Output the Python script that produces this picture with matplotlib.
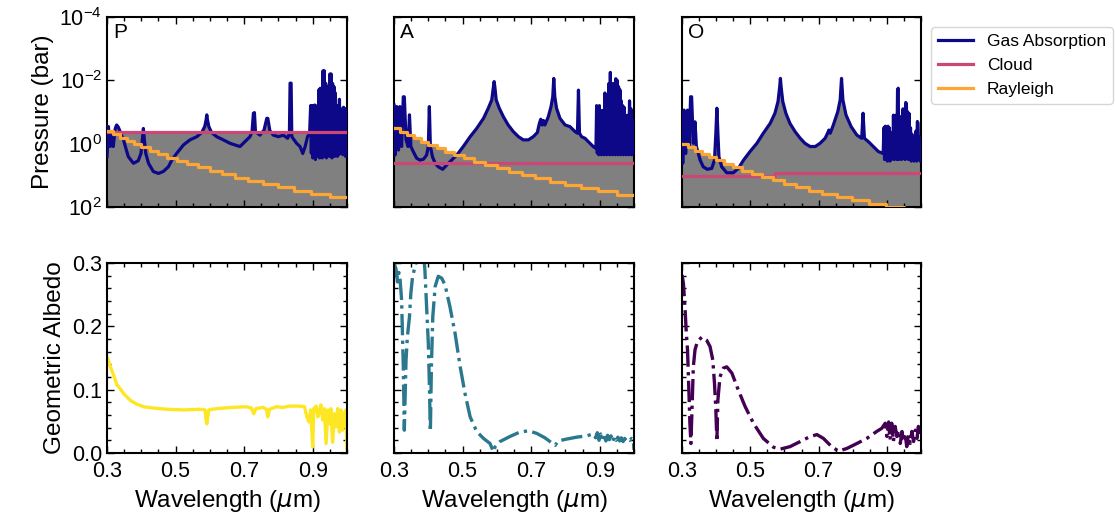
import numpy as np
import matplotlib
matplotlib.use('Agg')
import matplotlib.pyplot as plt
from matplotlib.ticker import MultipleLocator, FixedLocator, NullLocator

plt.rcParams['font.family'] = ['Liberation Sans', 'DejaVu Sans']

# ---- gas absorption tau=1 level, log10(P / bar) vs wavelength (um)
p_gas_wl = [0.300, 0.304, 0.309, 0.314, 0.318, 0.324, 0.328, 0.333, 0.340, 0.348, 0.355, 0.362,
            0.377, 0.391, 0.399, 0.403, 0.406, 0.409, 0.413, 0.421, 0.435, 0.450, 0.464, 0.479,
            0.489, 0.503, 0.523, 0.542, 0.562, 0.576, 0.585, 0.589, 0.591, 0.593, 0.597, 0.605,
            0.620, 0.639, 0.659, 0.673, 0.688, 0.702, 0.717, 0.723, 0.727, 0.730, 0.733, 0.746,
            0.758, 0.766, 0.769, 0.775, 0.785, 0.800, 0.814, 0.827, 0.832, 0.834, 0.837, 0.839,
            0.853, 0.863, 0.871, 0.878, 0.885, 0.891,
            0.894, 0.896, 0.898, 0.900, 0.902, 0.904, 0.906, 0.908, 0.910, 0.912, 0.914, 0.916,
            0.918, 0.920, 0.922, 0.924, 0.926, 0.928, 0.930, 0.932, 0.934, 0.936, 0.938, 0.940,
            0.942, 0.944, 0.946, 0.948, 0.950, 0.952, 0.954, 0.956, 0.958, 0.960, 0.962, 0.964,
            0.966, 0.968, 0.970, 0.972, 0.974, 0.976, 0.978, 0.980, 0.982, 0.984, 0.986, 0.988,
            0.990, 0.992, 0.994, 0.996, 0.998, 1.000]
p_gas_logp = [0.41, -0.54, 0.09, -0.38, 0.09, -0.48, -0.59, -0.52, -0.33, -0.12, 0.15, 0.41,
              0.62, 0.54, 0.31, -0.12, -0.48, -0.12, 0.31, 0.62, 0.88, 0.94, 0.88, 0.73,
              0.52, 0.31, 0.04, -0.12, -0.22, -0.35, -0.54, -0.75, -0.91, -0.75, -0.54, -0.35,
              -0.22, -0.12, -0.01, 0.04, 0.09, -0.06, -0.22, -0.38, -0.96, -0.98, -0.38, -0.27,
              -0.43, -0.80, -0.80, -0.41, -0.27, -0.22, -0.27, -0.17, -0.33, -1.91, -1.91, -0.22,
              -0.01, 0.09, 0.31, 0.09, -0.22, -0.33,
              -1.20, 0.30, -1.20, 0.45, -1.20, 0.20, -1.22, 0.50, -1.10, 0.40, -1.20, 0.35,
              -1.70, 0.45, -1.75, 0.20, -1.50, 0.45, -2.30, 0.30, -2.30, 0.40, -1.90, 0.45,
              -1.80, 0.30, -1.50, 0.40, -2.20, 0.35, -2.20, 0.45, -1.90, 0.30, -1.80, 0.40,
              -1.60, 0.30, -1.20, 0.40, -1.10, 0.35, -1.40, 0.25, -0.90, 0.30, -1.10, 0.35,
              -1.15, 0.30, -1.10, 0.40, -0.60, 0.30]

a_gas_wl = [0.300, 0.303, 0.308, 0.313, 0.317, 0.322, 0.327, 0.330, 0.335, 0.341, 0.345, 0.349,
            0.356, 0.366, 0.376, 0.386, 0.395, 0.400, 0.403, 0.406, 0.412, 0.420, 0.429, 0.442,
            0.454, 0.468, 0.483, 0.502, 0.522, 0.541, 0.561, 0.575, 0.585, 0.590, 0.592, 0.594,
            0.598, 0.607, 0.619, 0.633, 0.648, 0.663, 0.677, 0.692, 0.706, 0.718, 0.724, 0.728,
            0.732, 0.736, 0.740, 0.750, 0.758, 0.763, 0.766, 0.769, 0.774, 0.784, 0.799, 0.813,
            0.828, 0.835, 0.838, 0.841, 0.847, 0.857, 0.867, 0.881, 0.889,
            0.891, 0.893, 0.895, 0.897, 0.899, 0.901, 0.903, 0.905, 0.907, 0.909, 0.911, 0.913,
            0.915, 0.917, 0.919, 0.921, 0.923, 0.925, 0.927, 0.929, 0.931, 0.933, 0.935, 0.937,
            0.939, 0.941, 0.943, 0.945, 0.947, 0.949, 0.951, 0.953, 0.955, 0.957, 0.959, 0.961,
            0.963, 0.965, 0.967, 0.969, 0.971, 0.973, 0.975, 0.977, 0.979, 0.981, 0.983, 0.985,
            0.987, 0.989, 0.991, 0.993, 0.995, 0.997, 0.999]
a_gas_logp = [-1.22, 0.36, -1.17, 0.20, -1.17, 0.09, -1.48, -1.48, -0.12, 0.09, -0.91, 0.09,
              0.25, 0.46, 0.52, 0.49, 0.36, 0.09, -1.17, 0.09, 0.41, 0.62, 0.73, 0.81,
              0.67, 0.52, 0.36, 0.09, -0.22, -0.48, -0.80, -1.12, -1.38, -1.80, -1.96, -1.80,
              -1.38, -1.12, -0.85, -0.59, -0.38, -0.22, -0.12, -0.12, -0.22, -0.35, -0.64, -0.77,
              -0.59, -0.73, -0.59, -0.85, -1.17, -1.48, -2.06, -1.48, -1.12, -0.80, -0.59, -0.54,
              -0.38, -0.33, -1.69, -0.33, -0.22, -0.17, -0.06, 0.09, 0.15,
              -1.20, 0.30, -1.15, 0.35, -1.20, 0.30, -0.90, 0.35, -1.05, 0.30, -1.00, 0.35,
              -1.60, 0.30, -1.55, 0.35, -1.20, 0.30, -1.90, 0.35, -2.25, 0.30, -1.50, 0.35,
              -1.90, 0.30, -1.85, 0.35, -2.05, 0.30, -2.00, 0.35, -1.80, 0.30, -1.70, 0.35,
              -1.35, 0.30, -1.20, 0.35, -1.15, 0.30, -0.90, 0.35, -0.65, 0.30, -0.90, 0.35,
              -1.35, 0.30, -1.10, 0.35, -0.75, 0.30, -0.70]

o_gas_wl = [0.300, 0.302, 0.306, 0.311, 0.316, 0.321, 0.325, 0.328, 0.333, 0.338, 0.342, 0.353,
            0.362, 0.374, 0.387, 0.395, 0.399, 0.402, 0.405, 0.408, 0.416, 0.431, 0.450, 0.465,
            0.480, 0.499, 0.519, 0.538, 0.558, 0.572, 0.581, 0.586, 0.588, 0.590, 0.595, 0.604,
            0.616, 0.631, 0.646, 0.660, 0.675, 0.690, 0.704, 0.719, 0.727, 0.730, 0.734, 0.743,
            0.756, 0.763, 0.767, 0.771, 0.780, 0.795, 0.812, 0.826, 0.830, 0.834, 0.846, 0.860,
            0.875, 0.889,
            0.891, 0.893, 0.895, 0.897, 0.899, 0.901, 0.903, 0.905, 0.907, 0.909, 0.911, 0.913,
            0.915, 0.917, 0.919, 0.921, 0.923, 0.925, 0.927, 0.929, 0.931, 0.933, 0.935, 0.937,
            0.939, 0.941, 0.943, 0.945, 0.947, 0.949, 0.951, 0.953, 0.955, 0.957, 0.959, 0.961,
            0.963, 0.965, 0.967, 0.969, 0.971, 0.973, 0.975, 0.977, 0.979, 0.981, 0.983, 0.985,
            0.987, 0.989, 0.991, 0.993, 0.995, 0.997, 0.999]
o_gas_logp = [-1.01, 0.62, -1.06, 0.31, -1.06, 0.09, -1.48, -1.48, -0.01, -0.69, 0.09, 0.52,
              0.73, 0.81, 0.78, 0.52, -0.33, -1.12, -0.33, 0.41, 0.73, 0.92, 0.92, 0.78,
              0.52, 0.25, -0.01, -0.33, -0.64, -0.96, -1.33, -1.80, -2.06, -1.80, -1.33, -0.96,
              -0.64, -0.38, -0.17, -0.01, 0.09, 0.09, -0.01, -0.17, -0.35, -0.43, -0.33, -0.59,
              -1.01, -1.38, -2.06, -1.38, -0.91, -0.54, -0.27, -0.17, -0.96, -0.17, -0.06, 0.09,
              0.25, 0.31,
              -0.50, 0.50, -0.55, 0.45, -0.50, 0.55, -0.55, 0.45, -0.50, 0.55, -0.20, 0.50,
              -0.35, 0.45, -0.90, 0.50, -0.85, 0.45, -0.90, 0.50, -1.70, -1.75, 0.50, -0.60,
              0.45, -0.85, 0.50, -0.80, -1.10, 0.45, -0.90, 0.50, -1.30, -1.25, 0.45, -1.00,
              0.50, -0.95, 0.45, -0.50, 0.55, -0.30, 0.50, -0.10, 0.55, -0.20, 0.50, -0.40,
              0.55, -0.70, -0.65, 0.50, -0.20, 0.55, -0.15]

# ---- cloud top, step edges and log10(P / bar)
p_cloud_wl = [0.300, 1.000]
p_cloud_logp = [-0.38, -0.38]
a_cloud_wl = [0.300, 1.000]
a_cloud_logp = [0.62, 0.62]
o_cloud_wl = [0.300, 0.572, 1.000]
o_cloud_logp = [1.01, 0.92, 0.92]

# ---- Rayleigh tau=1 level on the model pressure grid
ray_wl = [0.300, 0.318, 0.337, 0.357, 0.378, 0.400, 0.424, 0.449, 0.475, 0.504, 0.533,
          0.565, 0.599, 0.634, 0.672, 0.711, 0.754, 0.798, 0.846, 0.896, 0.949, 1.000]
p_ray_logp = [-0.40, -0.30, -0.19, -0.09, 0.02, 0.12, 0.23, 0.33, 0.44, 0.54, 0.65,
              0.75, 0.86, 0.96, 1.07, 1.17, 1.28, 1.38, 1.49, 1.59, 1.70, 1.70]
a_ray_logp = [-0.48, -0.38, -0.27, -0.17, -0.06, 0.04, 0.15, 0.25, 0.36, 0.46, 0.57,
              0.67, 0.78, 0.88, 0.99, 1.09, 1.20, 1.30, 1.41, 1.51, 1.62, 1.62]
o_ray_logp = [0.01, 0.11, 0.22, 0.32, 0.43, 0.53, 0.64, 0.74, 0.85, 0.95, 1.06,
              1.16, 1.27, 1.37, 1.48, 1.58, 1.69, 1.79, 1.90, 2.00, 2.11, 2.11]

# ---- geometric albedo spectra
p_alb_wl = [0.302, 0.310, 0.319, 0.326, 0.329, 0.332, 0.348, 0.368, 0.387, 0.402, 0.406, 0.436,
            0.474, 0.523, 0.571, 0.586, 0.588, 0.591, 0.594, 0.597, 0.619, 0.668, 0.707, 0.721,
            0.728, 0.734, 0.755, 0.765, 0.769, 0.774, 0.794, 0.813, 0.832, 0.861, 0.876, 0.883,
            0.889, 0.894, 0.898, 0.900, 0.903, 0.910, 0.915, 0.920, 0.924, 0.929, 0.934, 0.939,
            0.944, 0.949, 0.953, 0.958, 0.963, 0.968, 0.973, 0.978, 0.982, 0.987, 0.992, 0.997,
            1.000]
p_alb = [0.149, 0.136, 0.123, 0.112, 0.107, 0.106, 0.094, 0.083, 0.077, 0.074, 0.073, 0.071,
         0.069, 0.068, 0.069, 0.068, 0.057, 0.046, 0.057, 0.068, 0.070, 0.072, 0.073, 0.071,
         0.062, 0.070, 0.072, 0.069, 0.057, 0.069, 0.073, 0.072, 0.074, 0.074, 0.073, 0.057,
         0.049, 0.068, 0.031, 0.0095, 0.070, 0.074, 0.057, 0.068, 0.076, 0.052, 0.070, 0.015,
         0.068, 0.046, 0.070, 0.017, 0.062, 0.041, 0.070, 0.033, 0.068, 0.036, 0.062, 0.068,
         0.004]

a_alb_wl = [0.300, 0.306, 0.310, 0.314, 0.317, 0.322, 0.327, 0.330, 0.335, 0.339, 0.345, 0.349,
            0.354, 0.361, 0.371, 0.378, 0.386, 0.390, 0.395, 0.400, 0.403, 0.406, 0.409, 0.413,
            0.420, 0.429, 0.439, 0.449, 0.463, 0.478, 0.493, 0.507, 0.522, 0.541, 0.561, 0.580,
            0.590, 0.595, 0.609, 0.638, 0.667, 0.692, 0.716, 0.740, 0.760, 0.770, 0.779, 0.804,
            0.833, 0.862, 0.880, 0.888, 0.893, 0.898, 0.903, 0.908, 0.913, 0.918, 0.923, 0.928,
            0.933, 0.938, 0.943, 0.948, 0.953, 0.958, 0.963, 0.968, 0.973, 0.978, 0.983, 0.988,
            0.993, 0.998, 1.000]
a_alb = [0.300, 0.290, 0.270, 0.285, 0.278, 0.242, 0.136, 0.036, 0.147, 0.184, 0.215, 0.252,
         0.278, 0.294, 0.315, 0.330, 0.315, 0.289, 0.231, 0.173, 0.110, 0.034, 0.136, 0.215,
         0.263, 0.279, 0.276, 0.265, 0.231, 0.189, 0.136, 0.094, 0.057, 0.034, 0.023, 0.015,
         0.002, 0.010, 0.018, 0.026, 0.033, 0.035, 0.031, 0.024, 0.016, 0.012, 0.019, 0.022,
         0.025, 0.027, 0.030, 0.024, 0.032, 0.020, 0.030, 0.022, 0.031, 0.019, 0.028, 0.021,
         0.027, 0.018, 0.026, 0.020, 0.025, 0.019, 0.024, 0.018, 0.023, 0.019, 0.022, 0.020,
         0.023, 0.021, 0.005]

o_alb_wl = [0.300, 0.304, 0.309, 0.312, 0.316, 0.320, 0.323, 0.326, 0.330, 0.333, 0.338, 0.345,
            0.358, 0.372, 0.382, 0.390, 0.395, 0.399, 0.402, 0.405, 0.411, 0.421, 0.431, 0.446,
            0.465, 0.485, 0.509, 0.538, 0.568, 0.587, 0.616, 0.646, 0.675, 0.695, 0.714, 0.738,
            0.758, 0.782, 0.812, 0.841, 0.870, 0.885, 0.895, 0.900, 0.905, 0.909, 0.914, 0.919,
            0.924, 0.929, 0.934, 0.939, 0.944, 0.948, 0.953, 0.958, 0.963, 0.968, 0.973, 0.978,
            0.983, 0.988, 0.992, 0.997, 1.000]
o_alb = [0.281, 0.268, 0.226, 0.194, 0.163, 0.099, 0.047, 0.015, 0.084, 0.136, 0.163, 0.176,
         0.183, 0.178, 0.168, 0.147, 0.110, 0.068, 0.018, 0.084, 0.120, 0.134, 0.136, 0.126,
         0.099, 0.073, 0.047, 0.023, 0.009, 0.006, 0.010, 0.018, 0.026, 0.029, 0.023, 0.010,
         0.003, 0.007, 0.015, 0.023, 0.034, 0.039, 0.047, 0.026, 0.049, 0.021, 0.047, 0.018,
         0.042, 0.026, 0.036, 0.015, 0.034, 0.018, 0.031, 0.010, 0.028, 0.015, 0.034, 0.018,
         0.036, 0.023, 0.042, 0.028, 0.047]

names = ['P', 'A', 'O']
gas_wl = [p_gas_wl, a_gas_wl, o_gas_wl]
gas_logp = [p_gas_logp, a_gas_logp, o_gas_logp]
cloud_wl = [p_cloud_wl, a_cloud_wl, o_cloud_wl]
cloud_logp = [p_cloud_logp, a_cloud_logp, o_cloud_logp]
ray_logp = [p_ray_logp, a_ray_logp, o_ray_logp]
alb_wl = [p_alb_wl, a_alb_wl, o_alb_wl]
alb = [p_alb, a_alb, o_alb]

gas_color = '#0d0887'
cloud_color = '#cc4778'
ray_color = '#fca636'
alb_colors = ['#fde725', '#2a788e', '#440154']
alb_styles = ['-', '-.', '-.']

fig = plt.figure(figsize=(11.15, 5.29), dpi=100)
lefts = [0.096, 0.3534, 0.6117]
widths = [0.2152, 0.2152, 0.2144]
p_bottom = 1e2


def style_axes(ax):
    for sp in ax.spines.values():
        sp.set_linewidth(1.5)
    ax.tick_params(which='both', direction='in', top=True, right=True, labelsize=15.5)
    ax.tick_params(which='major', length=5, width=1)
    ax.tick_params(which='minor', length=3, width=1)
    ax.tick_params(axis='x', pad=6)
    ax.set_xlim(0.3, 1.0)
    ax.xaxis.set_major_locator(FixedLocator([0.3, 0.5, 0.7, 0.9]))
    ax.xaxis.set_minor_locator(MultipleLocator(0.05))


for i in range(3):
    # pressure of the tau = 1 surfaces
    ax = fig.add_axes([lefts[i], 0.6087, widths[i], 0.3592])
    gp = 10 ** np.array(gas_logp[i])
    cp = 10 ** np.array(cloud_logp[i])
    rp = 10 ** np.array(ray_logp[i])
    ax.fill_between(gas_wl[i], gp, p_bottom, color='grey', lw=0, zorder=1)
    ax.fill_between(cloud_wl[i], cp, p_bottom, step='post', color='grey', lw=0, zorder=1)
    ax.fill_between(ray_wl, rp, p_bottom, step='post', color='grey', lw=0, zorder=1)
    ax.plot(gas_wl[i], gp, color=gas_color, lw=2.3, label='Gas Absorption', zorder=3)
    ax.step(cloud_wl[i], cp, where='post', color=cloud_color, lw=2.3, label='Cloud', zorder=4)
    ax.step(ray_wl, rp, where='post', color=ray_color, lw=2.3, label='Rayleigh', zorder=5)
    ax.set_yscale('log')
    ax.set_ylim(1e2, 1e-4)
    style_axes(ax)
    ax.yaxis.set_major_locator(FixedLocator([1e-4, 1e-2, 1e0, 1e2]))
    ax.yaxis.set_minor_locator(NullLocator())
    ax.tick_params(labelbottom=False)
    if i == 0:
        ax.set_ylabel('Pressure (bar)', fontsize=17.5)
    else:
        ax.tick_params(labelleft=False)
    ax.text(0.025, 0.97, names[i], transform=ax.transAxes, ha='left', va='top', fontsize=15)
    if i == 2:
        ax.legend(loc='upper left', bbox_to_anchor=(1.042, 0.947), borderaxespad=0,
                  fontsize=12.5, handlelength=2.0)

    # albedo spectrum
    bx = fig.add_axes([lefts[i], 0.1437, widths[i], 0.3592])
    bx.plot(alb_wl[i], alb[i], color=alb_colors[i], ls=alb_styles[i], lw=2.4)
    bx.set_ylim(0, 0.3)
    style_axes(bx)
    bx.yaxis.set_major_locator(MultipleLocator(0.1))
    bx.yaxis.set_minor_locator(MultipleLocator(0.02))
    bx.set_xlabel('Wavelength ($\\mu$m)', fontsize=17.5)
    if i == 0:
        bx.set_ylabel('Geometric Albedo', fontsize=17.5)
    else:
        bx.tick_params(labelleft=False)

fig.savefig('out.png', dpi=100)
